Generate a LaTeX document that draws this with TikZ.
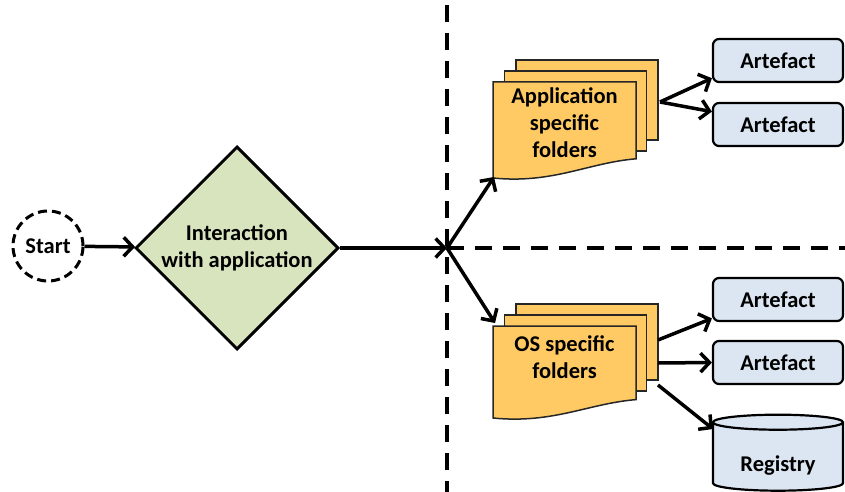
\documentclass[tikz,border=0pt]{standalone}
\usepackage{fontspec}
\setmainfont{Carlito}
\usetikzlibrary{arrows.meta,shapes.geometric,positioning}

\definecolor{foldercol}{HTML}{FFCA64}
\definecolor{artcol}{HTML}{DCE6F2}
\definecolor{decisioncol}{HTML}{D7E4BD}

\tikzset{
    txt/.style={font=\fontsize{22.5}{27}\selectfont\bfseries, align=center, inner sep=0pt},
    flow/.style={line width=3.5pt, -{Straight Barb[length=9pt,width=19pt,line width=3.5pt]}},
    divider/.style={line width=3.5pt, dash pattern=on 17pt off 11pt},
    sheet/.style={draw=black!85, line width=1.5pt, fill=foldercol},
    artefact/.style={txt, draw, line width=2.2pt, fill=artcol, rounded corners=6pt,
        minimum width=130pt, minimum height=43pt},
}

% stack of folder sheets: name, x, y (front top left), height, text offset, text
\newcommand{\folderstack}[6]{
    % back sheets
    \foreach \k in {2,1}{
        \draw[sheet] (#2+11.5*\k, #3-11*\k) rectangle ++(142,#4-16);
    }
    % front sheet with wavy bottom
    \draw[sheet] (#2,#3) -- (#2+143,#3) -- (#2+143,#3+0.8*#4)
        .. controls (#2+95,#3+0.8*#4+4) and (#2+60,#3+#4+6) .. (#2,#3+#4) -- cycle;
    \node[txt] (#1) at (#2+71.5,#3+#5) {#6};
}

\begin{document}
\begin{tikzpicture}[x=1pt, y=-1pt]
    \useasboundingbox (0,0) rectangle (845,492);

    % Draw dividers
    \draw[divider] (447,5) -- (447,492);
    \draw[divider] (447,248) -- (845,248);
    \coordinate (jn) at (447,248);

    % Draw start and decision
    \node[txt, circle, draw, line width=3pt, dash pattern=on 9pt off 5pt,
        minimum size=70pt] (start) at (48,246) {Start};
    \node[txt, diamond, draw, line width=3pt, fill=decisioncol, aspect=1,
        minimum size=203pt] (decide) at (237,248) {Interaction\\with application};

    % Draw folder stacks
    \folderstack{appfolders}{493}{82}{96}{41}{Application\\specific\\folders}
    \folderstack{osfolders}{493}{326}{92}{31}{OS specific\\folders}
    \coordinate (appin) at (494,177);
    \coordinate (osin) at (495,323);
    \coordinate (appout) at (660,102);
    \coordinate (osout1) at (658,340);
    \coordinate (osout2) at (658,363);
    \coordinate (osout3) at (658,385);

    % Draw artefacts
    \foreach [count=\i] \y in {60.5,124.5,299.5,362.5}{
        \node[artefact] (art\i) at (778,\y) {Artefact};
    }
    \node[txt, cylinder, shape border rotate=90, draw, line width=2.2pt, fill=artcol,
        aspect=0.2, minimum width=130pt, minimum height=76pt] (registry) at (778,457) {\\[6pt]Registry};
    \coordinate (regin) at (713,429);

    % Draw connectors
    \draw[flow] (start) -- (decide);
    \draw[flow] (decide) -- (jn);
    \draw[flow] (jn) -- (appin);
    \draw[flow] (jn) -- (osin);
    \draw[flow] (appout) -- (art1.195);
    \draw[flow] (appout) -- (art2.169);
    \draw[flow] (osout1) -- (art3.196);
    \draw[flow] (osout2) -- (art4.west);
    \draw[flow] (osout3) -- (regin);
\end{tikzpicture}
\end{document}
